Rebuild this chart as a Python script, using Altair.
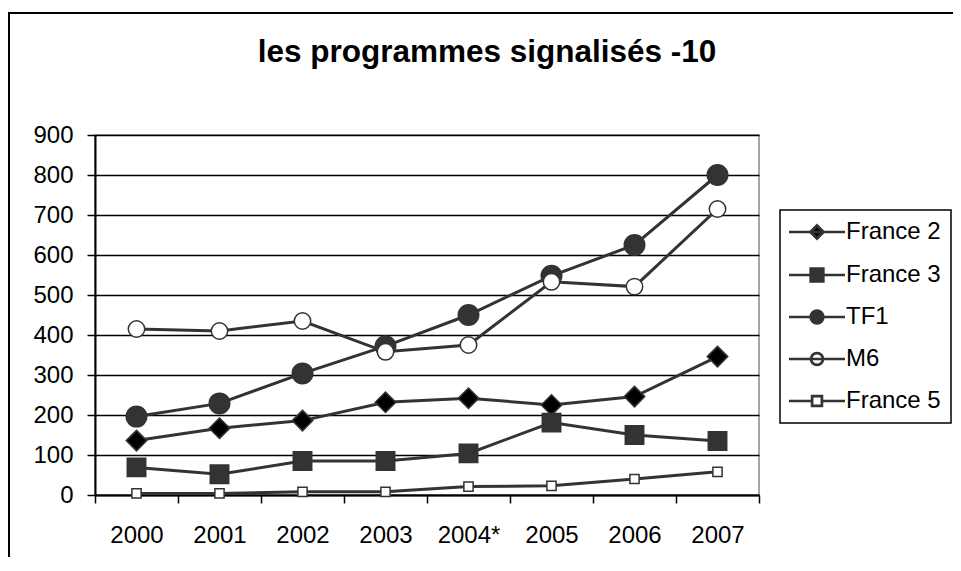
import json
import altair as alt
import pandas as pd

# ---- data ----
years = ["2000", "2001", "2002", "2003", "2004*", "2005", "2006", "2007"]
series = ["France 2", "France 3", "TF1", "M6", "France 5"]
france2 = [136, 167, 186, 232, 242, 225, 246, 346]
france3 = [69, 52, 85, 85, 104, 181, 150, 135]
tf1 = [196, 229, 304, 372, 450, 548, 625, 800]
m6 = [415, 410, 435, 358, 375, 533, 521, 715]
france5 = [4, 4, 8, 8, 21, 23, 40, 58]
y_ticks = [0, 100, 200, 300, 400, 500, 600, 700, 800, 900]
title_text = "les programmes signalisés -10"

values = {"France 2": france2, "France 3": france3, "TF1": tf1, "M6": m6, "France 5": france5}
rows = []
for s in series:
    for i, y in enumerate(years):
        rows.append({"series": s, "year": y, "pos": i + 0.5, "value": values[s][i]})
df = pd.DataFrame(rows)

FONT = "Liberation Sans, Arial, sans-serif"
FS = 24
W, H = 664, 360

x_vals = [i / 2 for i in range(2 * len(years) + 1)]
label_expr = "datum.value % 1 ? " + json.dumps(years) + "[floor(datum.value)] : ''"

x_axis = alt.Axis(
    values=x_vals, tickCount=100, labelExpr=label_expr, title=None, grid=False,
    domainColor="black", domainWidth=2, tickColor="black", tickWidth=1.5, tickSize=8,
    tickOpacity={"condition": {"test": "datum.value % 1 != 0", "value": 0}, "value": 1},
    labelFont=FONT, labelFontSize=FS, labelColor="black", labelPadding=20,
    labelOverlap=False, labelFlush=False, labelBound=False,
)
y_axis = alt.Axis(
    values=y_ticks, tickCount=100, title=None, grid=True, gridColor="black", gridWidth=1.4,
    domainColor="black", domainWidth=2, tickColor="black", tickWidth=1.5, tickSize=8,
    labelFont=FONT, labelFontSize=FS, labelColor="black", labelPadding=14,
    labelOverlap=False, labelFlush=False, labelBound=False,
)
x_scale = alt.Scale(domain=[0, len(years)], nice=False, zero=False)
y_scale = alt.Scale(domain=[y_ticks[0], y_ticks[-1]], nice=False)


def xe():
    return alt.X("pos:Q", scale=x_scale, axis=x_axis)


def ye():
    return alt.Y("value:Q", scale=y_scale, axis=y_axis)


lines = alt.Chart(df).mark_line(color="#333333", strokeWidth=3).encode(
    x=xe(), y=ye(), detail="series:N", order="pos:Q"
)

marker_fill = ["#000000", "#333333", "#333333", "#ffffff", "#ffffff"]
points = alt.Chart(df).mark_point(filled=False, opacity=1, strokeWidth=1.5, stroke="#333333").encode(
    x=xe(),
    y=ye(),
    shape=alt.Shape("series:N", scale=alt.Scale(domain=series, range=["diamond", "square", "circle", "circle", "square"]), legend=None),
    fill=alt.Fill("series:N", scale=alt.Scale(domain=series, range=marker_fill), legend=None),
    size=alt.Size("series:N", scale=alt.Scale(type="ordinal", domain=series, range=[420, 340, 420, 270, 85]), legend=None),
)

legend_paths = [
    "M-4,0H4M0,-0.95L0.95,0L0,0.95L-0.95,0Z",
    "M-4,0H4M-0.9,-0.9H0.9V0.9H-0.9Z",
    "M-4,0H4M-0.9,0A0.9,0.9 0 1,0 0.9,0A0.9,0.9 0 1,0 -0.9,0Z",
    "M-4,0H4M-0.85,0A0.85,0.85 0 1,0 0.85,0A0.85,0.85 0 1,0 -0.85,0Z",
    "M-4,0H-0.7M0.7,0H4M-0.7,-0.7H0.7V0.7H-0.7Z",
]
leg = alt.Legend(
    title=None, orient="none", legendX=685, legendY=75,
    strokeColor="black", padding=10, rowPadding=18,
    symbolSize=196, symbolStrokeColor="#333333", symbolStrokeWidth=2.7, symbolOpacity=1,
    symbolOffset=15, labelOffset=17,
    labelFont=FONT, labelFontSize=FS, labelColor="black",
)
legend_layer = alt.Chart(df).transform_filter("false").mark_point(
    filled=False, opacity=1, strokeWidth=2.7
).encode(
    shape=alt.Shape("series:N", scale=alt.Scale(domain=series, range=legend_paths), legend=leg),
    fill=alt.Fill("series:N", scale=alt.Scale(domain=series, range=marker_fill), legend=leg),
    stroke=alt.Stroke("series:N", scale=alt.Scale(domain=series, range=["#333333"] * len(series)), legend=leg),
)

frame_data = alt.Data(values=[{"k": 1}])
frame_left = alt.Chart(frame_data).mark_rule(color="black", strokeWidth=2).encode(
    x=alt.value(-86), y=alt.value(-123), y2=alt.value(600)
)
frame_top = alt.Chart(frame_data).mark_rule(color="black", strokeWidth=2).encode(
    x=alt.value(-87), x2=alt.value(1000), y=alt.value(-122)
)

chart = alt.layer(lines, points, legend_layer, frame_left, frame_top).resolve_scale(
    shape="independent", fill="independent", stroke="independent"
).properties(
    width=W, height=H,
    title=alt.Title(title_text, font=FONT, fontSize=31.5, fontWeight="bold", color="black",
                    anchor="middle", dx=60, offset=0, baseline="alphabetic", dy=82),
    autosize=alt.AutoSizeParams(type="none"),
    padding={"left": 87, "top": 127, "right": 194, "bottom": 62},
).configure_view(stroke="#888888", strokeWidth=1.5).configure_legend(strokeWidth=1.5)

chart.save("out.html", embed_options={"renderer": "svg", "actions": False})
